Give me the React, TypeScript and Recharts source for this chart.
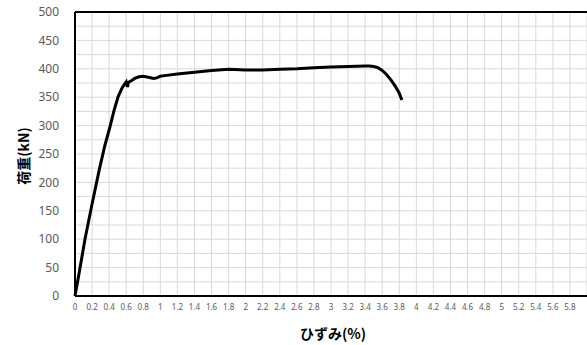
import React from "react";
import { LineChart, Line, XAxis, YAxis, CartesianGrid, ReferenceLine, Label } from "recharts";

// 荷重-ひずみ curve
const strain = [0, 0.05, 0.117, 0.2, 0.284, 0.35, 0.41, 0.46, 0.506, 0.55, 0.585, 0.6, 0.615, 0.625, 0.66, 0.7, 0.75, 0.8, 0.86, 0.92, 0.96, 1.0, 1.05, 1.2, 1.4, 1.6, 1.8, 2.0, 2.2, 2.4, 2.6, 2.8, 3.0, 3.2, 3.4, 3.45, 3.5, 3.55, 3.6, 3.65, 3.7, 3.75, 3.8, 3.83];
const load = [0, 42, 100, 162, 222, 265, 298, 328, 351, 366, 374, 377, 368, 376, 379, 383, 386, 387, 385, 383, 384, 387, 388, 391, 394, 397, 399, 398, 398, 399, 400, 402, 403, 404, 405, 405, 404, 402, 397, 390, 381, 370, 357, 345];

const xTicks = [0, 0.2, 0.4, 0.6, 0.8, 1, 1.2, 1.4, 1.6, 1.8, 2, 2.2, 2.4, 2.6, 2.8, 3, 3.2, 3.4, 3.6, 3.8, 4, 4.2, 4.4, 4.6, 4.8, 5, 5.2, 5.4, 5.6, 5.8];
const yTicks = [0, 50, 100, 150, 200, 250, 300, 350, 400, 450, 500];
const yMinor = [25, 75, 125, 175, 225, 275, 325, 375, 425, 475];

const data = strain.map((s, i) => ({ strain: s, load: load[i] }));

const JP = "'Noto Sans CJK JP', 'Noto Sans', sans-serif";
const TICK = "'Noto Sans', 'Open Sans', sans-serif";

export default function App() {
    return (
        <div style={{ position: "absolute", left: 0, top: 0, width: 587, height: 345, overflow: "hidden", background: "#fff" }}>
            <LineChart width={587} height={345} data={data} margin={{ top: 12, right: 0, left: 0, bottom: 0 }}>
                <CartesianGrid stroke="#d9d9d9" strokeWidth={1} />
                {yMinor.map((v) => (
                    <ReferenceLine key={v} y={v} stroke="#d9d9d9" strokeWidth={1} />
                ))}
                <ReferenceLine y={500} stroke="#000" strokeWidth={2} />
                <XAxis
                    dataKey="strain"
                    type="number"
                    domain={[0, 6]}
                    ticks={xTicks}
                    interval={0}
                    height={49}
                    axisLine={{ stroke: "#000", strokeWidth: 2 }}
                    tickLine={false}
                    tick={{ fontSize: 8, fill: "#595959", fontFamily: TICK }}
                    tickMargin={2}
                >
                    <Label
                        content={() => (
                            <text x={333} y={339} textAnchor="middle" fontSize={14} fontWeight="bold" fill="#000" fontFamily={JP}>
                                ひずみ(%)
                            </text>
                        )}
                    />
                </XAxis>
                <YAxis
                    type="number"
                    domain={[0, 500]}
                    ticks={yTicks}
                    width={75}
                    axisLine={{ stroke: "#000", strokeWidth: 2 }}
                    tickLine={false}
                    tick={{ fontSize: 12, fill: "#595959", fontFamily: TICK }}
                    tickMargin={10}
                >
                    <Label
                        content={() => (
                            <text x={29} y={156} transform="rotate(-90, 29, 156)" textAnchor="middle" fontSize={14} fontWeight="bold" fill="#000" fontFamily={JP}>
                                荷重(kN)
                            </text>
                        )}
                    />
                </YAxis>
                <Line type="linear" dataKey="load" stroke="#000" strokeWidth={3} dot={false} isAnimationActive={false} />
            </LineChart>
        </div>
    );
}
